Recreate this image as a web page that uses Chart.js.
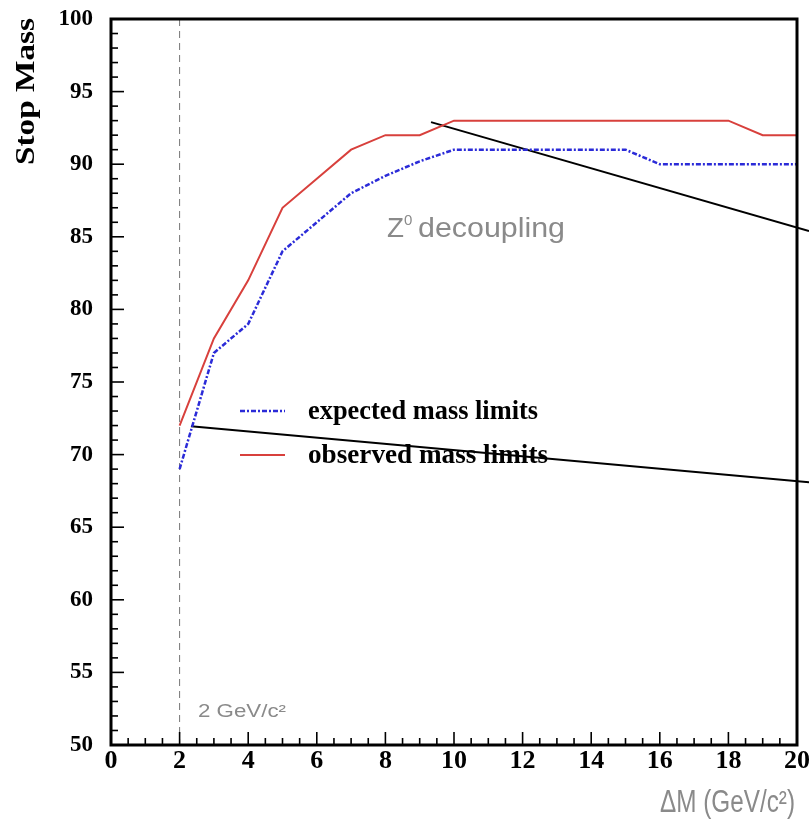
<!DOCTYPE html>
<html>
<head>
<meta charset="utf-8">
<script src="https://cdn.jsdelivr.net/npm/chart.js@4.4.1/dist/chart.umd.min.js"></script>
<style>
html,body{margin:0;padding:0;background:#fff;}
canvas{display:block;}
</style>
</head>
<body>
<canvas id="c" width="809" height="830"></canvas>
<script>
// ---- data ----
const deltaM = [2, 3, 4, 5, 6, 7, 8, 9, 10, 11, 12, 13, 14, 15, 16, 17, 18, 19, 20];
const expectedLimits = [69, 77, 79, 84, 86, 88, 89.2, 90.2, 91, 91, 91, 91, 91, 91, 90, 90, 90, 90, 90];
const observedLimits = [72, 78, 82, 87, 89, 91, 92, 92, 93, 93, 93, 93, 93, 93, 93, 93, 93, 92, 92];
const pointerA_x = [9.33, 20.35];
const pointerA_y = [92.9, 85.4];
const pointerB_x = [2.33, 20.35];
const pointerB_y = [71.95, 68.1];
const xTickValues = [0, 2, 4, 6, 8, 10, 12, 14, 16, 18, 20];
const yTickValues = [50, 55, 60, 65, 70, 75, 80, 85, 90, 95, 100];
const cutValue = 2;
const seriesNames = ['expected mass limits', 'observed mass limits'];

const BLUE = '#2b2bd8';
const RED = '#d8403c';
const GREY = '#8a8a8a';
const SERIF = '"Liberation Serif", "DejaVu Serif", serif';
const SANS = '"Liberation Sans", "DejaVu Sans", sans-serif';

function pts(xs, ys) { return xs.map((x, i) => ({ x: x, y: ys[i] })); }

function drawText(ctx, text, x, y, font, color, width, align) {
  ctx.save();
  ctx.font = font;
  ctx.fillStyle = color;
  ctx.textBaseline = 'alphabetic';
  ctx.textAlign = align || 'left';
  const w = ctx.measureText(text).width;
  const s = width ? width / w : 1;
  ctx.translate(x, y);
  ctx.scale(s, 1);
  ctx.fillText(text, 0, 0);
  ctx.restore();
}

const decor = {
  id: 'decor',
  beforeDatasetsDraw(chart) {
    const ctx = chart.ctx, xs = chart.scales.x, ys = chart.scales.y;
    const px = xs.getPixelForValue(cutValue);
    ctx.save();
    ctx.strokeStyle = '#777';
    ctx.lineWidth = 1;
    ctx.setLineDash([7, 5]);
    ctx.beginPath();
    ctx.moveTo(px, ys.getPixelForValue(100));
    ctx.lineTo(px, ys.getPixelForValue(50));
    ctx.stroke();
    ctx.restore();
  },
  afterDraw(chart) {
    const ctx = chart.ctx, xs = chart.scales.x, ys = chart.scales.y;
    const a = chart.chartArea;
    ctx.save();
    // inward ticks
    ctx.strokeStyle = '#000';
    ctx.lineWidth = 1.6;
    for (let v = 50; v <= 100; v += 1) {
      const p = ys.getPixelForValue(v);
      const len = (v % 5 === 0) ? 13 : 7;
      ctx.beginPath(); ctx.moveTo(a.left, p); ctx.lineTo(a.left + len, p); ctx.stroke();
    }
    for (let v = 0; v <= 20; v += 0.5) {
      const p = xs.getPixelForValue(v);
      const len = (v % 2 === 0) ? 13 : 7;
      ctx.beginPath(); ctx.moveTo(p, a.bottom); ctx.lineTo(p, a.bottom - len); ctx.stroke();
    }
    // frame
    ctx.lineWidth = 3;
    ctx.strokeRect(a.left, a.top, a.right - a.left, a.bottom - a.top);
    ctx.restore();

    // legend
    const ds = chart.data.datasets;
    const rows = [{ y: 411, d: ds[0] }, { y: 455, d: ds[1] }];
    rows.forEach(r => {
      ctx.save();
      ctx.strokeStyle = r.d.borderColor;
      ctx.lineWidth = r.d.borderWidth;
      ctx.setLineDash(r.d.borderDash || []);
      ctx.beginPath(); ctx.moveTo(240, r.y); ctx.lineTo(285, r.y); ctx.stroke();
      ctx.restore();
    });
    drawText(ctx, seriesNames[0], 308, 419, 'bold 27px ' + SERIF, '#000', 230);
    drawText(ctx, seriesNames[1], 308, 463, 'bold 27px ' + SERIF, '#000', 240);

    // annotations
    drawText(ctx, 'Z', 387, 237, '27px ' + SANS, GREY, 17);
    drawText(ctx, '0', 404, 225, '15px ' + SANS, GREY);
    drawText(ctx, 'decoupling', 418, 237, '27px ' + SANS, GREY, 147);
    drawText(ctx, '2 GeV/c\u00b2', 198, 717, '18px ' + SANS, GREY, 88);

    // axis titles
    drawText(ctx, '\u0394M (GeV/c\u00b2)', 795, 812, '31px ' + SANS, GREY, 135, 'right');
    ctx.save();
    ctx.translate(34, 91.5);
    ctx.rotate(-Math.PI / 2);
    ctx.font = 'bold 27px ' + SERIF;
    const w = ctx.measureText('Stop Mass').width;
    ctx.scale(147 / w, 1);
    ctx.textAlign = 'center';
    ctx.textBaseline = 'alphabetic';
    ctx.fillStyle = '#000';
    ctx.fillText('Stop Mass', 0, 0);
    ctx.restore();
  }
};

new Chart(document.getElementById('c'), {
  type: 'line',
  data: {
    datasets: [
      { label: seriesNames[0], data: pts(deltaM, expectedLimits), borderColor: BLUE, borderWidth: 2.5,
        borderDash: [5, 2, 2, 2], pointRadius: 0, tension: 0, fill: false },
      { label: seriesNames[1], data: pts(deltaM, observedLimits), borderColor: RED, borderWidth: 2,
        pointRadius: 0, tension: 0, fill: false },
      { label: 'pointer A', data: pts(pointerA_x, pointerA_y), borderColor: '#000', borderWidth: 2,
        pointRadius: 0, tension: 0, fill: false, clip: false },
      { label: 'pointer B', data: pts(pointerB_x, pointerB_y), borderColor: '#000', borderWidth: 2,
        pointRadius: 0, tension: 0, fill: false, clip: false }
    ]
  },
  options: {
    responsive: false,
    animation: false,
    layout: { padding: { top: 19, right: 12, left: 0, bottom: 0 } },
    plugins: { legend: { display: false }, tooltip: { enabled: false } },
    scales: {
      x: {
        type: 'linear', min: 0, max: 20,
        afterBuildTicks(s) { s.ticks = xTickValues.map(v => ({ value: v })); },
        ticks: { color: '#000', font: { family: SERIF, weight: 'bold', size: 26 }, padding: 1, maxRotation: 0, autoSkip: false },
        grid: { display: false, drawTicks: false },
        border: { display: false },
        afterFit(s) { s.height = 85; s.paddingLeft = 0; s.paddingRight = 0; }
      },
      y: {
        type: 'linear', min: 50, max: 100,
        afterBuildTicks(s) { s.ticks = yTickValues.map(v => ({ value: v })); },
        ticks: { color: '#000', font: { family: SERIF, weight: 'bold', size: 23 }, padding: 18, autoSkip: false },
        grid: { display: false, drawTicks: false },
        border: { display: false },
        afterFit(s) { s.width = 111; s.paddingTop = 0; s.paddingBottom = 0; }
      }
    }
  },
  plugins: [decor]
});
</script>
</body>
</html>
